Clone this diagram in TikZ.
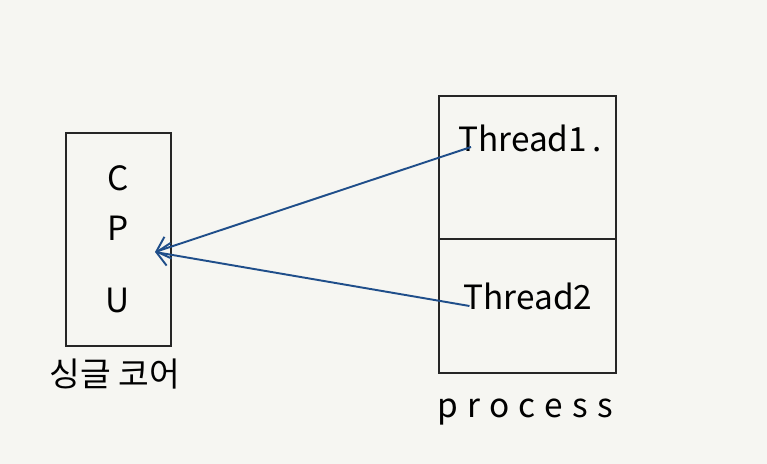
\documentclass[tikz,border=0pt]{standalone}
\usepackage{fontspec}
\setmainfont{Noto Sans CJK KR}
\usepackage{xcolor}
\usetikzlibrary{arrows.meta,calc,positioning}
\definecolor{paper}{HTML}{F6F6F2}
\definecolor{link}{HTML}{1F4E8A}
\tikzset{
  box/.style={draw=black!85,line width=1.1pt},
  hand/.style={font=\fontsize{19}{22}\selectfont,inner sep=1pt},
  call/.style={draw=link,line width=1.1pt,-{Straight Barb[length=7pt,width=13pt,line width=1.1pt]}}
}
\begin{document}
\begin{tikzpicture}[>=Stealth]
\fill[paper] (0,0) rectangle (15.34,9.28);
\useasboundingbox (0,0) rectangle (15.34,9.28);
% cpu
\draw[box] (1.32,2.36) rectangle (3.42,6.62);
\node[hand] (c) at (2.36,5.72) {C};
\node[hand] (p) at (2.36,4.72) {P};
\node[hand] (u) at (2.36,3.28) {U};
\node[hand] (core label) at (2.30,1.80) {싱글 코어};
\coordinate (core) at (3.1,4.24);
% process
\draw[box] (8.78,1.82) rectangle (12.32,7.36);
\draw[box,line width=0.9pt] (8.78,4.5) -- (12.32,4.5);
\node[hand] (t1) at (10.6,6.52) {Thread1\,.};
\node[hand] (t2) at (10.56,3.36) {Thread2};
\node[hand] (proc label) at (10.5,1.04) {\addfontfeature{LetterSpace=28}process};
% calls
\draw[call] ($(t1.west)+(0.3,-0.18)$) -- (core);
\draw[call] ($(t2.west)+(0.16,-0.2)$) -- (core);
\end{tikzpicture}
\end{document}
